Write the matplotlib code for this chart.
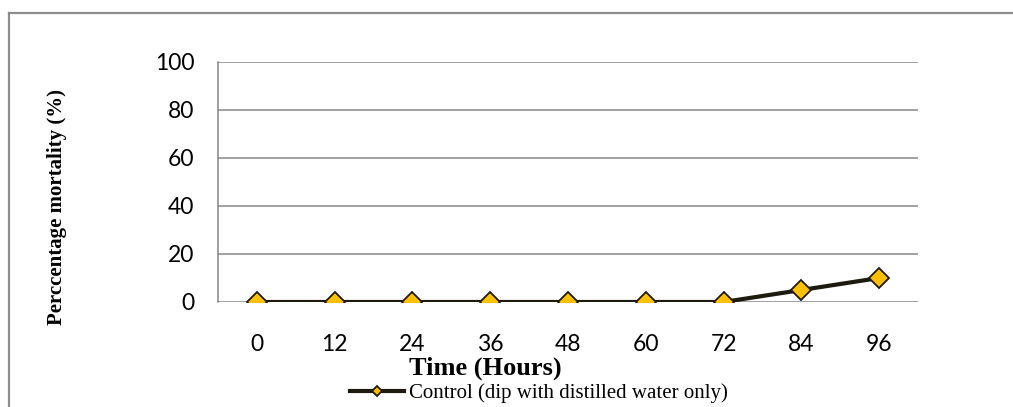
import numpy as np
import matplotlib.pyplot as plt
from matplotlib.lines import Line2D

# datos
horas = ["0", "12", "24", "36", "48", "60", "72", "84", "96"]
mortalidad = [0, 0, 0, 0, 0, 0, 0, 5, 10]
yticks = [0, 20, 40, 60, 80, 100]

W, H = 1013, 407
fig = plt.figure(figsize=(W / 100, H / 100), dpi=100)
ax = fig.add_axes([218 / W, 1 - 302 / H, 700 / W, 240 / H])

x = np.arange(len(horas))
ax.plot(x, mortalidad, color="#1e1a0e", lw=3.0, marker="D", ms=10,
        mfc="#FFC000", mec="#1e1a0e", mew=1.3, zorder=3,
        label="Control (dip with distilled water only)")

ax.set_xlim(-0.5, len(horas) - 0.5)
ax.set_ylim(0, 100)
ax.set_yticks(yticks)
ax.set_xticks(x)
ax.set_xticklabels(horas)
ax.yaxis.grid(True, color="#868686", lw=1.1)
ax.set_axisbelow(True)
for s in ["top", "right", "bottom"]:
    ax.spines[s].set_visible(False)
ax.spines["left"].set_color("#868686")
ax.spines["left"].set_linewidth(1.1)
ax.tick_params(axis="both", length=0, labelsize=16.5)
ax.tick_params(axis="y", pad=17)
ax.tick_params(axis="x", pad=23)
for t in ax.get_xticklabels() + ax.get_yticklabels():
    t.set_fontfamily("Lato")

fig.text(57 / W, 1 - 207 / H, "Perccentage mortality (%)", rotation=90,
         ha="center", va="center", family="Liberation Serif",
         weight="bold", fontsize=15)
fig.text(485 / W, 1 - 368 / H, "Time (Hours)", ha="center", va="center",
         family="Liberation Serif", weight="bold", fontsize=19)

leg = ax.legend(loc="center", bbox_to_anchor=(539 / W, 1 - 393 / H),
                bbox_transform=fig.transFigure, frameon=False,
                prop={"family": "Liberation Serif", "size": 15},
                handlelength=2.55, handletextpad=0.25, markerscale=0.5,
                borderpad=0)

# marco exterior
fig.add_artist(Line2D([8.5 / W, 8.5 / W], [0, 1 - 13 / H],
                      transform=fig.transFigure, color="#8c8c8c", lw=1.6))
fig.add_artist(Line2D([8.5 / W, 1], [1 - 13 / H, 1 - 13 / H],
                      transform=fig.transFigure, color="#8c8c8c", lw=1.6))

fig.savefig("out.png", dpi=100)
